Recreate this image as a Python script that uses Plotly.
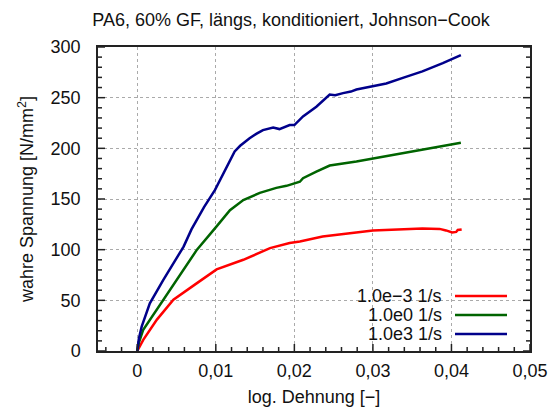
import numpy as np
import plotly.graph_objects as go

# ---- data ----
series_names = ["1.0e\u22123 1/s", "1.0e0 1/s", "1.0e3 1/s"]
series_colors = ["#ff0000", "#006400", "#00008b"]

x_red = [0, 0.0003, 0.00076, 0.0025, 0.0046, 0.0076, 0.0101, 0.0135, 0.0169, 0.0194,
         0.0207, 0.0236, 0.0300, 0.0363, 0.0385, 0.0393, 0.0401, 0.0406, 0.0408, 0.0413]
y_red = [0, 5, 11, 31, 50.6, 67, 80.5, 90, 101.5, 106.5,
         108, 113, 119, 121, 120.5, 119, 117, 117.5, 119.5, 120]

x_green = [0, 0.0002, 0.00076, 0.0025, 0.0042, 0.0059, 0.0076, 0.0101, 0.0118, 0.0135,
           0.0156, 0.0177, 0.0190, 0.0207, 0.0211, 0.0228, 0.0245, 0.0279, 0.0300, 0.0342,
           0.0384, 0.0397, 0.0412]
y_green = [0, 8, 21, 41, 60.5, 80, 100, 123, 139, 149,
           156, 161, 163, 167, 170.5, 177, 183, 187, 190, 196,
           202, 203.5, 205.5]

x_blue = [0, 0.0002, 0.00056, 0.0016, 0.0033, 0.0046, 0.0059, 0.0069, 0.0085, 0.0099,
          0.0110, 0.0118, 0.0124, 0.0131, 0.0137, 0.0143, 0.0152, 0.0160, 0.0173, 0.0181,
          0.0194, 0.0200, 0.0211, 0.0228, 0.0245, 0.0252, 0.0262, 0.0272, 0.0279, 0.0300,
          0.0317, 0.0340, 0.0363, 0.0389, 0.0412]
y_blue = [0, 12, 24, 47, 70, 87, 103, 120, 142, 159,
          176, 189, 197, 202.5, 206.5, 210, 214.5, 218, 220.5, 219,
          223, 223, 231.5, 241, 253, 252.5, 254.5, 256, 258, 261,
          264, 270, 276, 284, 292]

x_range = [-0.005, 0.05]
y_range = [0, 300]
x_tick_step, y_tick_step = 0.01, 50
x_minor_step, y_minor_step = 0.002, 10
x_tick_format = ".2~f"   # gives 0 / 0,01 / ... with comma decimal separator

title_text = "PA6, 60% GF, längs, konditioniert, Johnson\u2212Cook"
x_title = "log. Dehnung [\u2212]"
y_title = "wahre Spannung [N/mm<sup>2</sup>]"

FONT = "Liberation Sans, Arial, Helvetica, sans-serif"
FS = 18
W, H = 553, 413
L, R, T, B = 98, 23, 47, 62
TICK_MAJ, TICK_MIN = 7, 4
TICK_COL = "#222222"

fig = go.Figure()
for xs, ys, name, col in zip([x_red, x_green, x_blue], [y_red, y_green, y_blue],
                             series_names, series_colors):
    fig.add_trace(go.Scatter(x=xs, y=ys, mode="lines", name=name,
                             line=dict(color=col, width=2.5), showlegend=False))

fig.update_xaxes(
    range=x_range, tickmode="linear", tick0=0, dtick=x_tick_step, tickformat=x_tick_format,
    showline=True, linecolor="#222222", linewidth=1.5, mirror=True,
    ticks="",
    showgrid=True, gridcolor="#aaaaaa", gridwidth=1, griddash="dot",
    zeroline=False, automargin=False, ticklabelstandoff=3,
    tickfont=dict(family=FONT, size=FS, color="#111111"),
    title=dict(text=x_title, font=dict(family=FONT, size=FS, color="#111111"), standoff=10),
)
fig.update_yaxes(
    range=y_range, tickmode="linear", tick0=0, dtick=y_tick_step,
    showline=True, linecolor="#222222", linewidth=1.5, mirror=True,
    ticks="",
    showgrid=True, gridcolor="#aaaaaa", gridwidth=1, griddash="dot",
    zeroline=False, automargin=False, ticklabelstandoff=12,
    tickfont=dict(family=FONT, size=FS, color="#111111"),
    title=dict(text=y_title, font=dict(family=FONT, size=FS, color="#111111"), standoff=12),
)

pw, ph = W - L - R, H - T - B
def px_x(p):
    return (p - L) / pw
def px_y(p):
    return (H - B - p) / ph

shapes = []
# tick marks (inside, gnuplot style): x on bottom, y on left and right
n_lo = int(np.ceil(x_range[0] / x_minor_step - 1e-9))
n_hi = int(np.floor(x_range[1] / x_minor_step + 1e-9))
for k in range(n_lo, n_hi + 1):
    xv = k * x_minor_step
    is_major = abs(xv / x_tick_step - round(xv / x_tick_step)) < 1e-6
    ln = TICK_MAJ if is_major else TICK_MIN
    shapes.append(dict(type="line", xref="x", yref="paper", x0=xv, x1=xv, y0=0, y1=ln / ph,
                       line=dict(color=TICK_COL, width=1.5), layer="above"))
m_hi = int(round((y_range[1] - y_range[0]) / y_minor_step))
for k in range(0, m_hi + 1):
    yv = y_range[0] + k * y_minor_step
    is_major = abs(yv / y_tick_step - round(yv / y_tick_step)) < 1e-6
    ln = TICK_MAJ if is_major else TICK_MIN
    shapes.append(dict(type="line", xref="paper", yref="y", x0=0, x1=ln / pw, y0=yv, y1=yv,
                       line=dict(color=TICK_COL, width=1.5), layer="above"))
    shapes.append(dict(type="line", xref="paper", yref="y", x0=1 - ln / pw, x1=1, y0=yv, y1=yv,
                       line=dict(color=TICK_COL, width=1.5), layer="above"))

# legend (gnuplot style: right-aligned label, sample line to the right)
shapes.append(dict(type="rect", xref="paper", yref="paper",
                   x0=px_x(330), x1=px_x(518), y0=px_y(346), y1=px_y(283),
                   fillcolor="white", line=dict(width=0), layer="between"))
annotations = []
rows = [296, 315, 334]
for name, col, ry in zip(series_names, series_colors, rows):
    annotations.append(dict(text=name, xref="paper", yref="paper", x=px_x(444), y=px_y(ry),
                            xanchor="right", yanchor="middle", showarrow=False,
                            font=dict(family=FONT, size=FS, color="#111111")))
    shapes.append(dict(type="line", xref="paper", yref="paper",
                       x0=px_x(455), x1=px_x(507), y0=px_y(ry), y1=px_y(ry),
                       line=dict(color=col, width=2.5)))

fig.update_layout(
    width=W, height=H,
    margin=dict(l=L, r=R, t=T, b=B, autoexpand=False),
    separators=",.",
    paper_bgcolor="white", plot_bgcolor="white",
    title=dict(text=title_text, x=291 / W, xanchor="center", y=1 - 20 / H, yanchor="middle",
               font=dict(family=FONT, size=FS, color="#111111")),
    shapes=shapes, annotations=annotations,
    showlegend=False,
)

fig.write_html("out.html")
